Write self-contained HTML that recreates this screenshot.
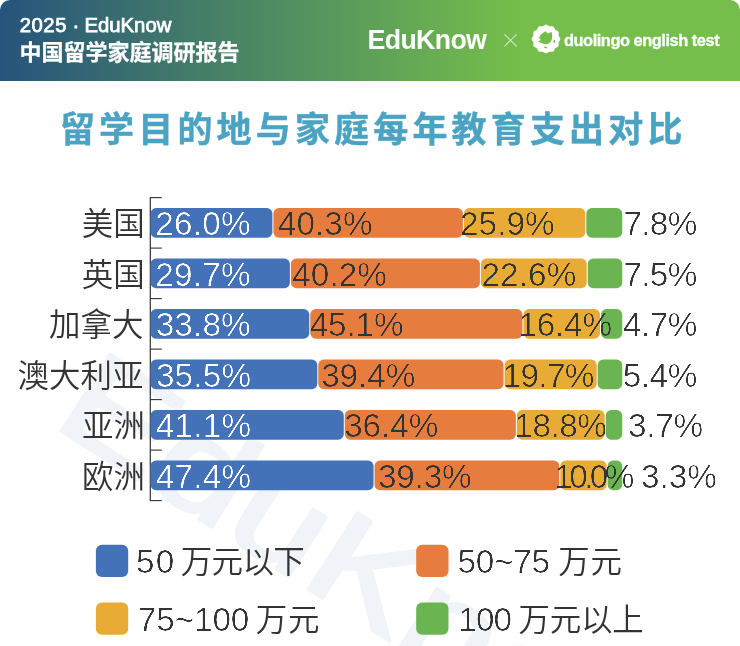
<!DOCTYPE html>
<html lang="zh-CN"><head><meta charset="utf-8"><title>留学目的地与家庭每年教育支出对比</title>
<style>
html,body{margin:0;padding:0;background:#fff;}
body{width:740px;height:646px;position:relative;overflow:hidden;font-family:"Liberation Sans","Noto Sans CJK SC",sans-serif;color:#333;}
.hdr{position:absolute;left:0;top:0;width:740px;height:80.5px;border-radius:10px 10px 0 0;background:linear-gradient(90deg,#26547c 0%,#75be4b 70%,#75be4b 100%);}
.h1{position:absolute;left:19.8px;top:13.2px;font:400 20.3px/24px "Liberation Sans",sans-serif;color:#fff;white-space:nowrap;-webkit-text-stroke:0.75px #fff;}
.h1 b{font-weight:400;letter-spacing:0.5px;}
.h1 i{font-style:normal;white-space:pre;letter-spacing:-0.15px;}
.h2{position:absolute;left:19.5px;top:38.3px;-webkit-text-stroke:0.25px #fff;font:700 22px/30px "Liberation Sans","Noto Sans CJK SC",sans-serif;color:#fff;white-space:nowrap;}
.logo1{position:absolute;left:367.6px;top:24.7px;font:700 26.8px/30px "Liberation Sans",sans-serif;color:#fff;letter-spacing:-0.7px;white-space:nowrap;}
.x{position:absolute;left:498.4px;top:25.1px;width:24px;text-align:center;font:200 20px/30px "Noto Sans CJK SC",sans-serif;color:rgba(255,255,255,.68);}
.duo{position:absolute;left:564px;top:28.6px;font:700 16.4px/22px "Liberation Sans",sans-serif;color:#fff;white-space:nowrap;letter-spacing:-0.46px;-webkit-text-stroke:0.3px #fff;}
.badge{position:absolute;left:526px;top:19px;width:40px;height:40px;}
.chart{position:absolute;left:0;top:0;width:740px;height:646px;}
.chart text{fill:#333333;white-space:pre;}
.chart .n{font-family:"Liberation Sans",sans-serif;font-size:33.3px;filter:url(#thin);}
.chart .c{font-family:"Noto Sans CJK SC",sans-serif;font-weight:350;font-size:31.5px;}
.chart .w{fill:#fff;}
.chart .wm{font-family:"Liberation Sans",sans-serif;font-weight:400;font-size:132px;fill:#f0f3f8;stroke:#f0f3f8;stroke-width:3.6px;stroke-linejoin:round;}
.chart .t{font-family:"Noto Sans CJK SC",sans-serif;font-weight:700;font-size:35px;fill:#4ba3c3;stroke:#4ba3c3;stroke-width:0.4px;stroke-linejoin:round;stroke-linecap:round;}
</style></head><body>
<div class="hdr"></div>
<div class="h1"><b>2025</b><i> · </i>EduKnow</div>
<div class="h2">中国留学家庭调研报告</div>
<div class="logo1">EduKnow</div>
<div class="x">×</div>
<svg class="badge" viewBox="0 0 40 40"><path d="M34.37,20.00 L34.23,20.75 L33.87,21.46 L33.39,22.12 L32.96,22.75 L32.68,23.40 L32.60,24.09 L32.66,24.86 L32.74,25.67 L32.70,26.47 L32.44,27.18 L31.95,27.76 L31.28,28.19 L30.54,28.53 L29.85,28.86 L29.28,29.28 L28.86,29.85 L28.53,30.54 L28.19,31.28 L27.76,31.95 L27.19,32.44 L26.47,32.70 L25.67,32.74 L24.86,32.66 L24.09,32.60 L23.40,32.68 L22.75,32.96 L22.12,33.39 L21.46,33.87 L20.75,34.23 L20.00,34.37 L19.25,34.23 L18.54,33.87 L17.88,33.39 L17.25,32.96 L16.60,32.68 L15.91,32.60 L15.14,32.66 L14.33,32.74 L13.53,32.70 L12.82,32.44 L12.24,31.95 L11.81,31.28 L11.47,30.54 L11.14,29.85 L10.72,29.28 L10.15,28.86 L9.46,28.53 L8.72,28.19 L8.05,27.76 L7.56,27.18 L7.30,26.47 L7.26,25.67 L7.34,24.86 L7.40,24.09 L7.32,23.40 L7.04,22.75 L6.61,22.12 L6.13,21.46 L5.77,20.75 L5.63,20.00 L5.77,19.25 L6.13,18.54 L6.61,17.88 L7.04,17.25 L7.32,16.60 L7.40,15.91 L7.34,15.14 L7.26,14.33 L7.30,13.53 L7.56,12.81 L8.05,12.24 L8.72,11.81 L9.46,11.47 L10.15,11.14 L10.72,10.72 L11.14,10.15 L11.47,9.46 L11.81,8.72 L12.24,8.05 L12.81,7.56 L13.53,7.30 L14.33,7.26 L15.14,7.34 L15.91,7.40 L16.60,7.32 L17.25,7.04 L17.88,6.61 L18.54,6.13 L19.25,5.77 L20.00,5.63 L20.75,5.77 L21.46,6.13 L22.12,6.61 L22.75,7.04 L23.40,7.32 L24.09,7.40 L24.86,7.34 L25.67,7.26 L26.47,7.30 L27.19,7.56 L27.76,8.05 L28.19,8.72 L28.53,9.46 L28.86,10.15 L29.28,10.72 L29.85,11.14 L30.54,11.47 L31.28,11.81 L31.95,12.24 L32.44,12.81 L32.70,13.53 L32.74,14.33 L32.66,15.14 L32.60,15.91 L32.68,16.60 L32.96,17.25 L33.39,17.88 L33.87,18.54 L34.23,19.25Z" fill="#fff"/><path d="M13.22,18.67 C13.25,17.81 14.08,16.64 14.74,15.81 C15.40,14.98 16.33,14.24 17.17,13.68 C18.01,13.12 18.98,12.34 19.79,12.46 C20.60,12.59 21.12,14.33 22.04,14.41 C22.95,14.49 24.58,12.72 25.26,12.95 C25.94,13.18 25.99,14.77 26.11,15.81 C26.23,16.84 26.19,18.04 25.99,19.15 C25.79,20.27 25.65,21.50 24.89,22.50 C24.13,23.49 22.75,24.80 21.43,25.11 C20.11,25.43 18.53,24.81 16.99,24.38 C15.45,23.96 12.59,23.13 12.19,22.56 C11.78,21.99 14.38,21.63 14.56,20.98 C14.73,20.33 13.19,19.53 13.22,18.67Z" fill="#75be4b"/><ellipse cx="28.19" cy="22.49" rx="0.9" ry="1.5" transform="rotate(20 28.19 22.49)" fill="#75be4b"/><ellipse cx="19.61" cy="28.36" rx="1.6" ry="0.8" transform="rotate(10 19.61 28.36)" fill="#75be4b"/></svg>
<div class="duo">duolingo english test</div>
<svg class="chart" width="740" height="646" viewBox="0 0 740 646">
<defs><filter id="thin" x="-2%" y="-10%" width="104%" height="120%" color-interpolation-filters="sRGB">
<feGaussianBlur in="SourceAlpha" stdDeviation="0.6" result="b"/>
<feComponentTransfer in="b" result="a"><feFuncA type="linear" slope="2.6" intercept="-1.46"/></feComponentTransfer>
<feComposite in="SourceGraphic" in2="a" operator="in"/>
</filter></defs>
<text class="wm" transform="translate(50.5,424) rotate(32.6) scale(1.25,1)">EduKnow</text>
<text class="t" x="59.9" y="142.0" letter-spacing="4.17">留学目的地与家庭每年教育支出对比</text>
<rect x="149.7" y="197.10" width="1.2" height="304.00" fill="#333333"/>
<rect x="150" y="197.05" width="11.8" height="1.1" fill="#333333"/>
<rect x="150" y="247.55" width="11.8" height="1.1" fill="#333333"/>
<rect x="150" y="298.05" width="11.8" height="1.1" fill="#333333"/>
<rect x="150" y="348.55" width="11.8" height="1.1" fill="#333333"/>
<rect x="150" y="399.05" width="11.8" height="1.1" fill="#333333"/>
<rect x="150" y="449.55" width="11.8" height="1.1" fill="#333333"/>
<rect x="150" y="500.05" width="11.8" height="1.1" fill="#333333"/>
<rect x="150.50" y="208.05" width="121.90" height="29.6" rx="5.5" fill="#4472b9"/>
<rect x="273.40" y="208.05" width="189.50" height="29.6" rx="5.5" fill="#e67c3e"/>
<rect x="463.90" y="208.05" width="121.43" height="29.6" rx="5.5" fill="#e8ab35"/>
<rect x="586.33" y="208.05" width="35.87" height="29.6" rx="5.5" fill="#6ab551"/>
<rect x="150.50" y="258.55" width="139.39" height="29.6" rx="5.5" fill="#4472b9"/>
<rect x="290.89" y="258.55" width="189.03" height="29.6" rx="5.5" fill="#e67c3e"/>
<rect x="480.92" y="258.55" width="105.83" height="29.6" rx="5.5" fill="#e8ab35"/>
<rect x="587.75" y="258.55" width="34.45" height="29.6" rx="5.5" fill="#6ab551"/>
<rect x="150.50" y="309.05" width="158.77" height="29.6" rx="5.5" fill="#4472b9"/>
<rect x="310.27" y="309.05" width="212.19" height="29.6" rx="5.5" fill="#e67c3e"/>
<rect x="523.46" y="309.05" width="76.52" height="29.6" rx="5.5" fill="#e8ab35"/>
<rect x="600.98" y="309.05" width="21.22" height="29.6" rx="5.5" fill="#6ab551"/>
<rect x="150.50" y="359.55" width="166.81" height="29.6" rx="5.5" fill="#4472b9"/>
<rect x="318.31" y="359.55" width="185.24" height="29.6" rx="5.5" fill="#e67c3e"/>
<rect x="504.55" y="359.55" width="92.12" height="29.6" rx="5.5" fill="#e8ab35"/>
<rect x="597.67" y="359.55" width="24.53" height="29.6" rx="5.5" fill="#6ab551"/>
<rect x="150.50" y="410.05" width="193.28" height="29.6" rx="5.5" fill="#4472b9"/>
<rect x="344.78" y="410.05" width="171.06" height="29.6" rx="5.5" fill="#e67c3e"/>
<rect x="516.84" y="410.05" width="87.87" height="29.6" rx="5.5" fill="#e8ab35"/>
<rect x="605.71" y="410.05" width="16.49" height="29.6" rx="5.5" fill="#6ab551"/>
<rect x="150.50" y="460.55" width="223.06" height="29.6" rx="5.5" fill="#4472b9"/>
<rect x="374.56" y="460.55" width="184.77" height="29.6" rx="5.5" fill="#e67c3e"/>
<rect x="560.33" y="460.55" width="46.27" height="29.6" rx="5.5" fill="#e8ab35"/>
<rect x="607.60" y="460.55" width="14.60" height="29.6" rx="5.5" fill="#6ab551"/>
<text class="c" x="81.73" y="235.15">美国</text>
<text class="n w" x="155.33" y="235.05" letter-spacing="0.24">26.0%</text>
<text class="n" x="277.84" y="235.05" letter-spacing="0.08">40.3%</text>
<text class="n" x="459.93" y="235.05" letter-spacing="0.09">25.9%</text>
<text class="n" x="623.39" y="235.05" letter-spacing="-0.64">7.8%</text>
<text class="c" x="81.73" y="285.65">英国</text>
<text class="n w" x="155.33" y="285.55" letter-spacing="0.24">29.7%</text>
<text class="n" x="292.24" y="285.55" letter-spacing="0.06">40.2%</text>
<text class="n" x="481.53" y="285.55" letter-spacing="0.09">22.6%</text>
<text class="n" x="623.39" y="285.55" letter-spacing="-0.64">7.5%</text>
<text class="c" x="48.91" y="336.15">加拿大</text>
<text class="n w" x="155.73" y="336.05" letter-spacing="0.13">33.8%</text>
<text class="n" x="309.74" y="336.05" letter-spacing="-0.14">45.1%</text>
<text class="n" x="518.46" y="336.05" letter-spacing="-0.22">16.4%</text>
<text class="n" x="623.04" y="336.05" letter-spacing="-0.52">4.7%</text>
<text class="c" x="17.54" y="386.65">澳大利亚</text>
<text class="n w" x="155.93" y="386.55" letter-spacing="0.18">35.5%</text>
<text class="n" x="321.13" y="386.55" letter-spacing="-0.02">39.4%</text>
<text class="n" x="502.76" y="386.55" letter-spacing="-0.72">19.7%</text>
<text class="n" x="622.67" y="386.55" letter-spacing="-0.43">5.4%</text>
<text class="c" x="81.89" y="437.15">亚洲</text>
<text class="n w" x="155.64" y="437.05" letter-spacing="0.26">41.1%</text>
<text class="n" x="344.13" y="437.05" letter-spacing="-0.02">36.4%</text>
<text class="n" x="514.36" y="437.05" letter-spacing="-0.45">18.8%</text>
<text class="n" x="628.03" y="437.05" letter-spacing="-0.25">3.7%</text>
<text class="c" x="81.89" y="487.65">欧洲</text>
<text class="n w" x="155.64" y="487.55" letter-spacing="0.26">47.4%</text>
<text class="n" x="377.93" y="487.55" letter-spacing="-0.17">39.3%</text>
<text class="n" x="554.26" y="487.55" letter-spacing="-3.57">10.0%</text>
<text class="n" x="640.93" y="487.55" letter-spacing="0.02">3.3%</text>
<rect x="95.9" y="544.7" width="32.3" height="32.4" rx="6" fill="#4472b9"/><text class="n" x="136.07" y="573.00" letter-spacing="1.19">50</text><text class="c" x="174.34" y="573.00" letter-spacing="-0.63"> 万元以下</text>
<rect x="416.2" y="544.7" width="32.3" height="32.4" rx="6" fill="#e67c3e"/><text class="n" x="457.57" y="573.00" letter-spacing="-0.27">50~75</text><text class="c" x="550.55" y="573.00" letter-spacing="0.67"> 万元</text>
<rect x="95.9" y="602.4" width="32.3" height="32.4" rx="6" fill="#e8ab35"/><text class="n" x="137.79" y="630.80" letter-spacing="-0.09">75~100</text><text class="c" x="248.05" y="630.80" letter-spacing="0.67"> 万元</text>
<rect x="416.2" y="602.4" width="32.3" height="32.4" rx="6" fill="#6ab551"/><text class="n" x="458.26" y="630.80" letter-spacing="-0.86">100</text><text class="c" x="511.66" y="630.80" letter-spacing="-0.25"> 万元以上</text>
</svg>
</body></html>
